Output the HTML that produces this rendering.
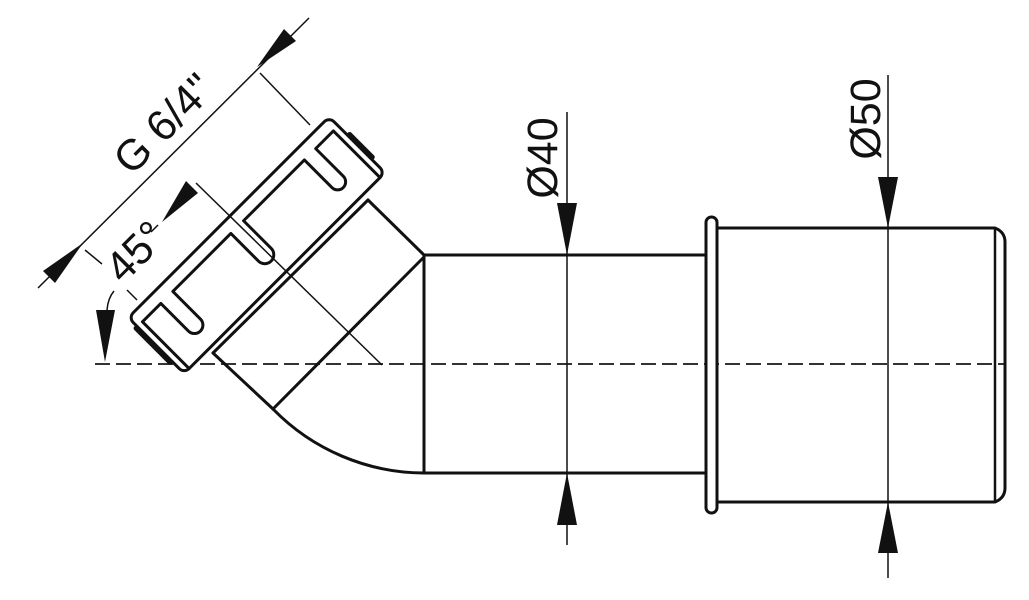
<!DOCTYPE html>
<html><head><meta charset="utf-8"><style>html,body{margin:0;padding:0;background:#fff}svg{display:block}</style></head>
<body>
<svg width="1029" height="600" viewBox="0 0 1029 600" xmlns="http://www.w3.org/2000/svg">
<rect width="1029" height="600" fill="#fff"/>
<!-- centerline -->
<line x1="95" y1="364" x2="1005" y2="364" stroke="#333" stroke-width="2" stroke-dasharray="15 6"/>
<g fill="none" stroke="#111" stroke-width="3" stroke-linejoin="round" stroke-linecap="round">
  <!-- nut -->
  <g transform="translate(257,245.5) rotate(-45)">
    <rect x="-142" y="-40" width="284" height="79" rx="7" fill="#fff"/>
    <path d="M -135 39 L -135 -27 L -109 -27 L -109 12 A 8.5 8.5 0 0 0 -92 12 L -92 -27 L -10 -27 L -10 12 A 9 9 0 0 0 8 12 L 8 -27 L 94 -27 L 94 12 A 8 8 0 0 0 110 12 L 110 -27 L 135 -27 L 135 39"/>
    <line x1="144" y1="-13" x2="144" y2="19" stroke-width="5"/>
    <line x1="-144" y1="-27" x2="-144" y2="21" stroke-width="5"/>
  </g>
  <!-- collar / elbow -->
  <line x1="368" y1="200" x2="213" y2="353"/>
  <line x1="368" y1="200" x2="424" y2="255"/>
  <line x1="213" y1="353" x2="273" y2="409"/>
  <line x1="273" y1="409" x2="424" y2="257"/>
  <path d="M273 409 A212 212 0 0 0 424 473"/>
  <line x1="424" y1="255" x2="424" y2="473"/>
  <line x1="424" y1="255" x2="706" y2="255"/>
  <line x1="424" y1="473" x2="706" y2="473"/>
  <!-- flange and big pipe -->
  <rect x="706" y="217" width="11" height="296" rx="5.5" fill="#fff"/>
  <path d="M717 228 L995 228 Q1005 232 1005 242 L1005 488 Q1005 498 995 502 L717 502"/>
  <line x1="995" y1="229" x2="995" y2="501" stroke-width="2.5"/>
</g>
<!-- thin dimension lines -->
<g stroke="#111" stroke-width="1.5" fill="none">
  <line x1="38" y1="288" x2="309" y2="18"/>
  <line x1="260" y1="73" x2="310" y2="125"/>
  <line x1="85" y1="250" x2="102" y2="264"/>
  <line x1="127" y1="290" x2="137" y2="300"/>
  <line x1="196" y1="183" x2="382" y2="365"/>
  <line x1="158" y1="225" x2="151" y2="232"/>
  <path d="M107 310 Q108 298 114 291"/>
  <line x1="567" y1="112" x2="567" y2="545"/>
  <line x1="888" y1="75" x2="888" y2="578"/>
</g>
<!-- arrows -->
<g fill="#111">
  <polygon points="257,67 296,41 284,29"/>
  <polygon points="83,243 55,283 43,271"/>
  <polygon points="162,222 186,181 198,193"/>
  <polygon points="96,310 115,310 105,362"/>
  <polygon points="557,203 577,203 567,255"/>
  <polygon points="557,525 577,525 567,473"/>
  <polygon points="878,177 898,177 888,228"/>
  <polygon points="878,553 898,553 888,502"/>
</g>
<!-- labels -->
<g font-family="Liberation Sans, Arial, sans-serif" font-size="43" fill="#111" text-anchor="middle">
  <text x="174" y="134" transform="rotate(-45 174 134)">G 6/4"</text>
  <text x="146" y="262" transform="rotate(-45 146 262)">45°</text>
  <text x="557" y="158" transform="rotate(-90 557 158)">Ø40</text>
  <text x="880" y="119" transform="rotate(-90 880 119)">Ø50</text>
</g>
</svg>
</body></html>
